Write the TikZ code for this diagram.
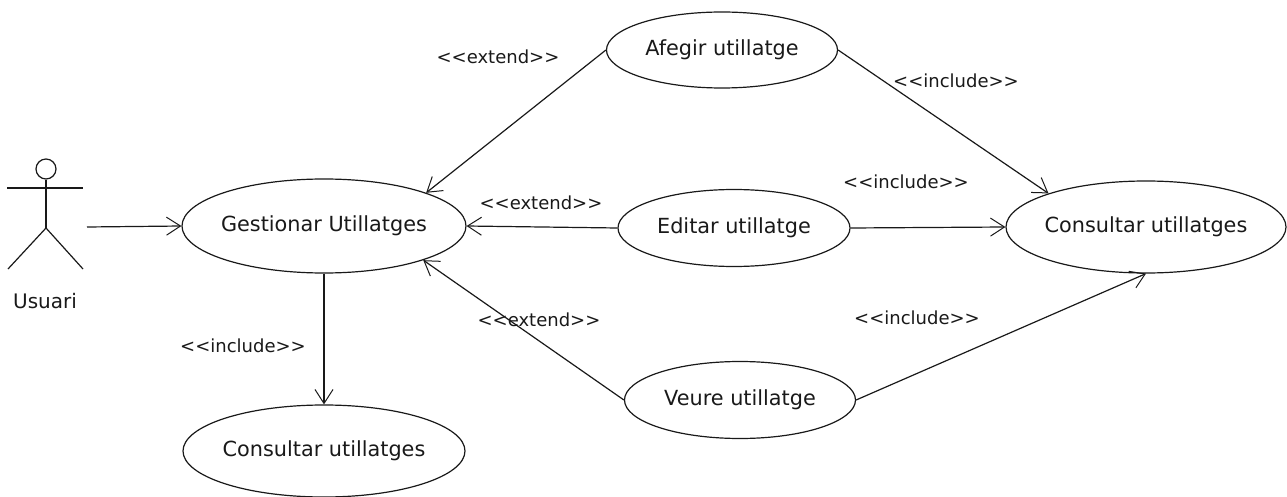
\documentclass[tikz,border=0pt]{standalone}
\usepackage{fontspec}
\setmainfont{DejaVu Sans}
\usetikzlibrary{shapes.geometric,arrows.meta}
\definecolor{ink}{gray}{0.1}
\tikzset{
 usecase/.style={ellipse,draw=ink,line width=1.2pt,inner xsep=-30pt,inner ysep=0pt,text=ink,font=\fontsize{20.8}{24}\selectfont},
 conn/.style={draw=ink,line width=1.2pt,-{Straight Barb[length=14pt,width=18pt,line width=1pt]}},
 lab/.style={font=\fontsize{18}{21}\selectfont,inner sep=0pt,text=ink},
 limb/.style={draw=ink,line width=1.2pt}
}
\begin{document}
\begin{tikzpicture}[x=1pt,y=-1pt]
\useasboundingbox (0,0) rectangle (1287,497);
\node[usecase,minimum width=284pt,minimum height=94pt] (gest) at (324,226) {Gestionar Utillatges};
\node[usecase,minimum width=282pt,minimum height=92pt] (consb) at (324,451) {Consultar utillatges};
\node[usecase,minimum width=231pt,minimum height=76pt] (afeg) at (722,50) {Afegir utillatge};
\node[usecase,minimum width=232pt,minimum height=77pt] (edit) at (734,228) {Editar utillatge};
\node[usecase,minimum width=231pt,minimum height=77pt] (veur) at (740,400) {Veure utillatge};
\node[usecase,minimum width=280pt,minimum height=92pt] (consr) at (1146,227) {Consultar utillatges};
% actor
\node[circle,draw=ink,line width=1.2pt,minimum size=20pt,inner sep=0pt] (head) at (46,169) {};
\coordinate (shl) at (7,188);
\coordinate (shr) at (83,188);
\coordinate (hip) at (46,228);
\coordinate (footl) at (8,269);
\coordinate (footr) at (83,269);
\coordinate (start) at (87,227);
\draw[limb] (head.south) -- (hip);
\draw[limb] (shl) -- (shr);
\draw[limb] (footl) -- (hip) -- (footr);
\node[lab,font=\fontsize{20}{23}\selectfont] (usuari) at (45,301) {Usuari};
% connectors
\draw[conn] (start) -- (gest.west);
\draw[conn] (gest.south) -- (consb.north);
\draw[conn] (afeg.west) -- (gest.18.6);
\draw[conn] (edit.west) -- (gest.east);
\draw[conn] (veur.west) -- (gest.-19.6);
\draw[conn] (afeg.east) -- (consr.161);
\draw[conn] (edit.east) -- (consr.west);
\draw[conn] (veur.east) -- (consr.south);
% labels
\node[lab] (l1) at (498,57) {<{}<extend>{}>};
\node[lab] (l2) at (956,81) {<{}<include>{}>};
\node[lab] (l3) at (906,182) {<{}<include>{}>};
\node[lab] (l4) at (541,203) {<{}<extend>{}>};
\node[lab] (l5) at (539,320) {<{}<extend>{}>};
\node[lab] (l6) at (917,318) {<{}<include>{}>};
\node[lab] (l7) at (243,346) {<{}<include>{}>};
\end{tikzpicture}
\end{document}
